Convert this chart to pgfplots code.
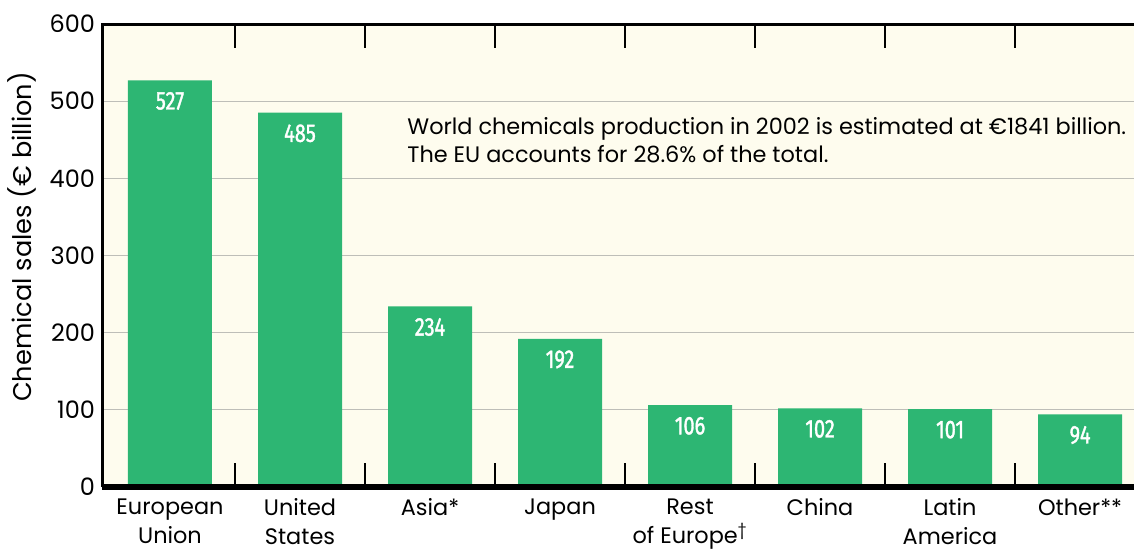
\documentclass[border=0pt]{standalone}
\usepackage{pgfplots}
\pgfplotsset{compat=1.18}
\usepackage{fontspec}
\setmainfont{Poppins}
\newfontfamily\numfont[FakeStretch=0.78, FakeBold=1.4]{Fira Sans}
\definecolor{cream}{RGB}{254,252,238}
\definecolor{barg}{RGB}{45,182,115}
\definecolor{gridc}{RGB}{190,190,184}
\begin{document}
\begin{tikzpicture}
\begin{axis}[
  at={(0,0)}, anchor=south west,
  scale only axis, width=516bp, height=231.5bp,
  xmin=-0.523, xmax=7.415, ymin=0, ymax=600,
  axis background/.style={fill=cream},
  axis line style={draw=none},
  ytick={0,100,...,600},
  ytick style={draw=none},
  ymajorgrids, grid style={gridc, line width=0.6bp},
  xtick={0.5,1.5,...,6.5},
  xticklabels={},
  xtick pos=both, xtick align=inside,
  xtick style={black, line width=0.6bp},
  major tick length=12bp,
  extra x ticks={0,1,2,3,4,5,6,7},
  extra x tick labels={European\\Union, United\\States, Asia*, Japan, Rest\\of Europe\textsuperscript{\textdagger}, China, Latin\\America, Other**},
  extra x tick style={major tick length=0pt, xtick style={draw=none}},
  xticklabel style={align=center, font=\fontsize{11.2bp}{14.6bp}\selectfont, anchor=north, yshift=-2.3bp},
  yticklabel style={font=\fontsize{12bp}{13bp}\selectfont},
  ylabel={Chemical sales (€ billion)},
  ylabel style={font=\fontsize{12.8bp}{14bp}\selectfont, at={(axis description cs:-0.0775,0.54)}, anchor=center},
  /pgf/number format/assume math mode=true,
  clip=false,
]
\addplot[ybar, bar width=42bp, fill=barg, draw=none,
  nodes near coords,
  every node near coord/.append style={anchor=center, yshift=-10.3bp, text=white, font=\numfont\fontsize{12.8bp}{13bp}\selectfont}]
  coordinates {(0,527) (1,485) (2,234) (3,192) (4,106) (5,102) (6,101) (7,94)};
\draw[black, line width=1.5bp] (rel axis cs:0,0) -- (rel axis cs:0,1) -- (rel axis cs:1,1);
\draw[black, line width=2.5bp] (rel axis cs:0,0) -- (rel axis cs:1,0);
\node[anchor=base west, align=left, font=\fontsize{11.2bp}{14bp}\selectfont, inner sep=0pt] at (axis cs:1.823,420) {World chemicals production in 2002 is estimated at €1841 billion.\\The EU accounts for 28.6\% of the total.};
\end{axis}
\pgfresetboundingbox
\path[use as bounding box] (-51bp,-31.5bp) rectangle (516bp,243.5bp);
\end{tikzpicture}
\end{document}
